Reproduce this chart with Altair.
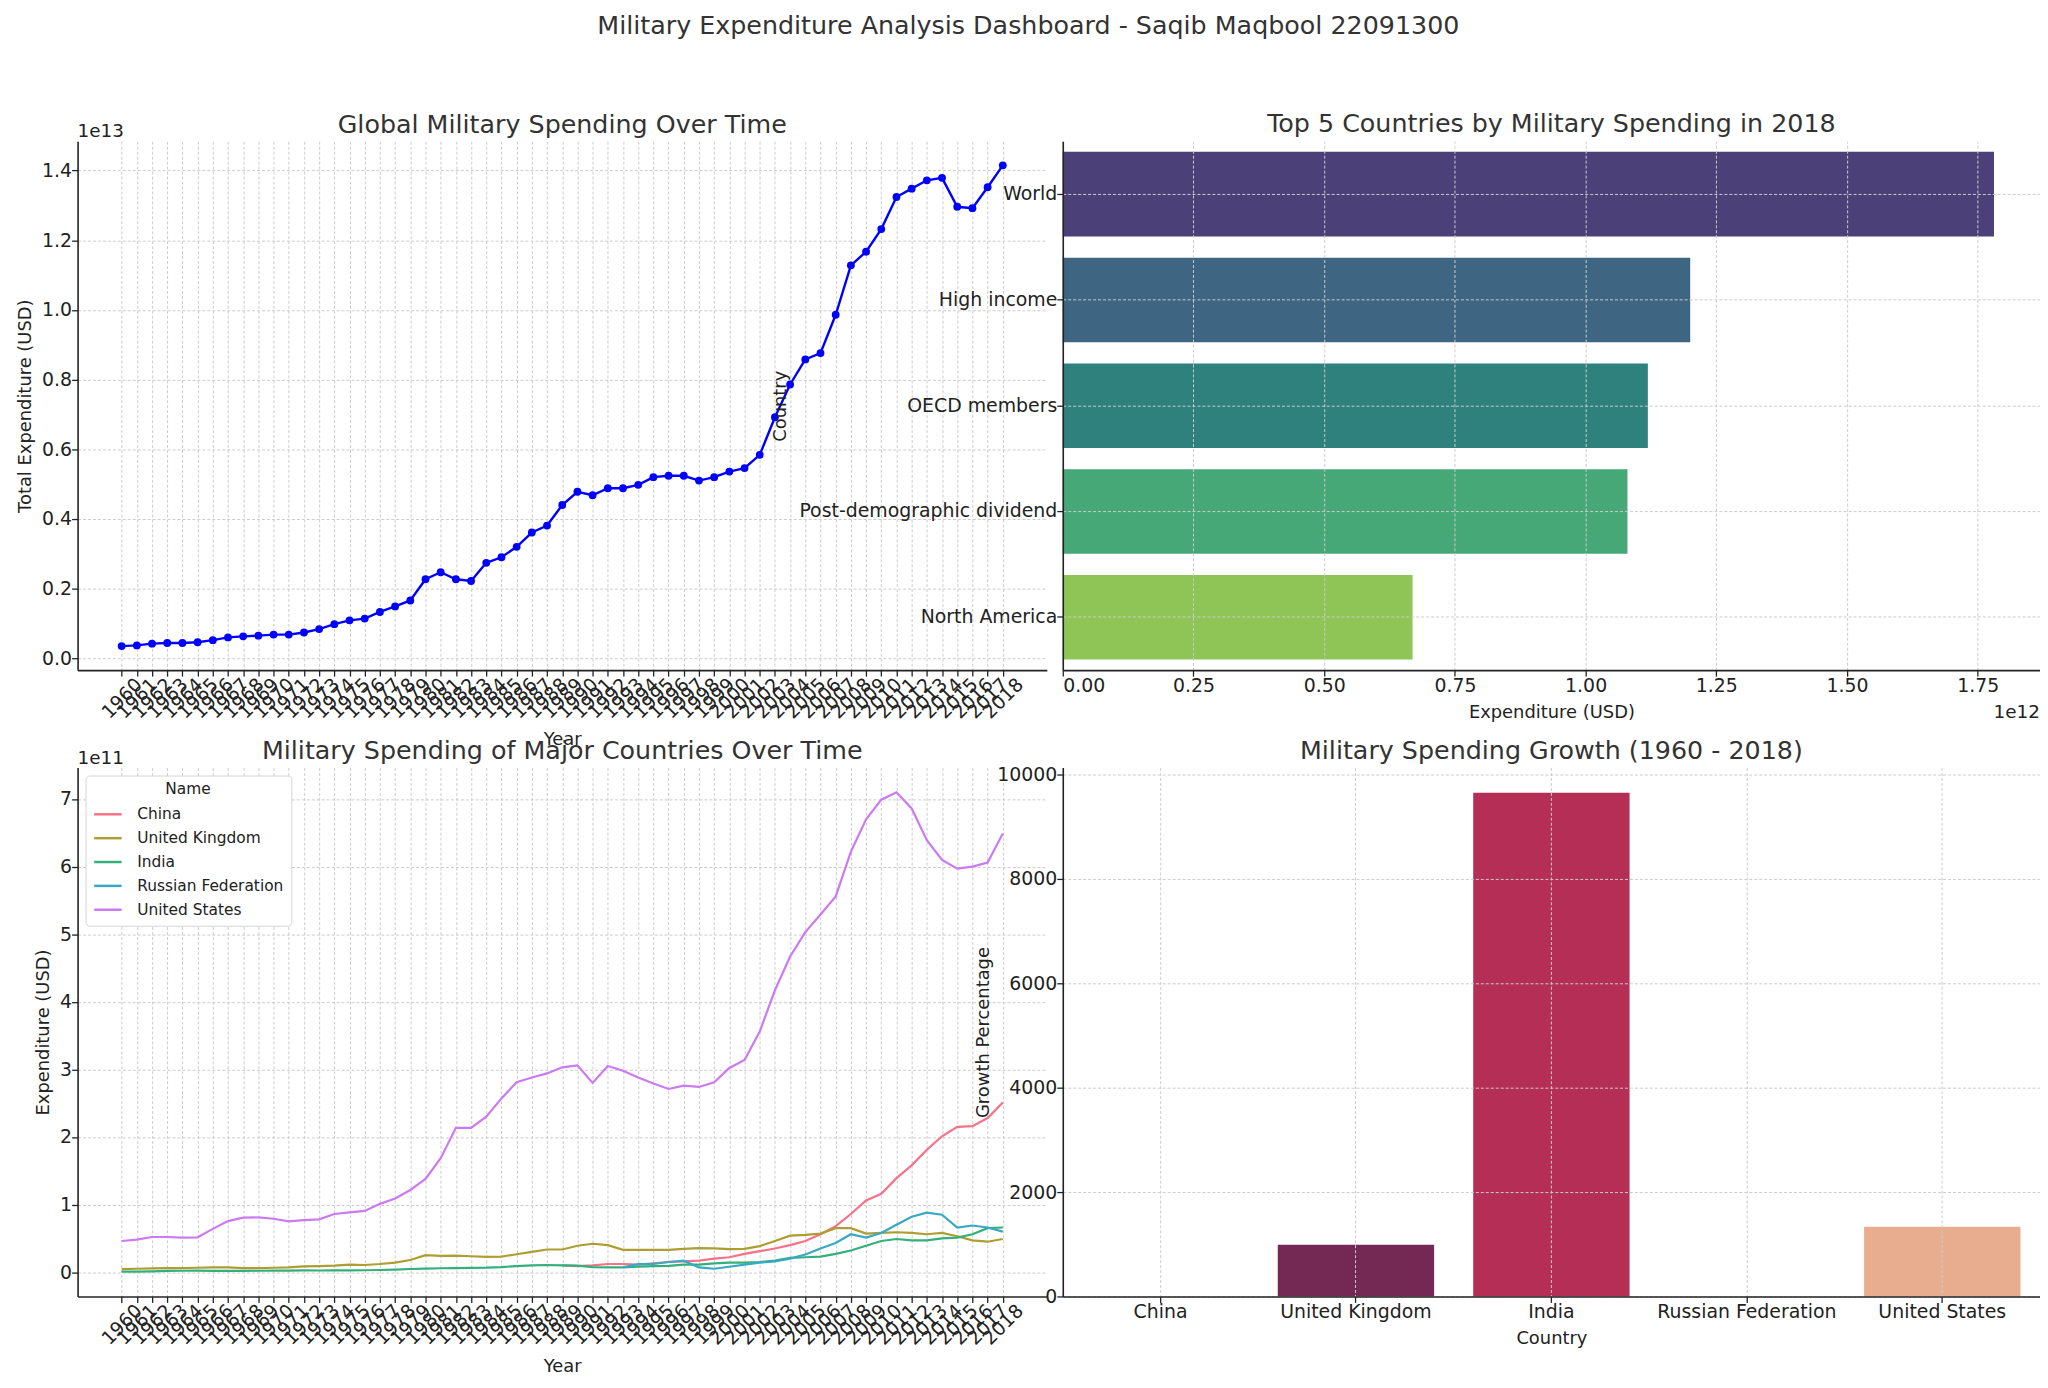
import altair as alt
import pandas as pd

years = list(range(1960, 2019))

# global total, in units of 1e13 USD
world_total = [0.035, 0.037, 0.042, 0.044, 0.044, 0.046, 0.052, 0.060, 0.063, 0.065,
               0.068, 0.068, 0.074, 0.084, 0.098, 0.109, 0.114, 0.133, 0.149, 0.166,
               0.227, 0.247, 0.227, 0.222, 0.274, 0.290, 0.320, 0.361, 0.381, 0.440,
               0.478, 0.468, 0.488, 0.488, 0.498, 0.520, 0.524, 0.524, 0.510, 0.520,
               0.536, 0.546, 0.584, 0.692, 0.786, 0.858, 0.876, 0.986, 1.128, 1.167,
               1.232, 1.324, 1.348, 1.372, 1.379, 1.296, 1.292, 1.352, 1.415]

# top 5 in 2018, in units of 1e12 USD
top5_names = ["World", "High income", "OECD members", "Post-demographic dividend", "North America"]
top5_spend = [1.781, 1.200, 1.119, 1.080, 0.669]
top5_colors = ["#4b4178", "#3e6581", "#2e817c", "#46a777", "#8ec556"]

# major countries, in units of 1e11 USD
us_spend = [0.46, 0.48, 0.52, 0.52, 0.51, 0.515, 0.64, 0.755, 0.805, 0.81,
            0.79, 0.75, 0.77, 0.78, 0.86, 0.885, 0.905, 1.01, 1.09, 1.215,
            1.38, 1.685, 2.135, 2.135, 2.30, 2.57, 2.81, 2.88, 2.94, 3.03,
            3.06, 2.80, 3.05, 2.98, 2.88, 2.79, 2.71, 2.76, 2.74, 2.81,
            3.02, 3.14, 3.56, 4.17, 4.67, 5.03, 5.29, 5.56, 6.22, 6.70,
            6.99, 7.10, 6.86, 6.39, 6.10, 5.97, 6.00, 6.06, 6.49]
uk_spend = [0.045, 0.05, 0.055, 0.06, 0.06, 0.065, 0.07, 0.07, 0.06, 0.06,
            0.065, 0.07, 0.085, 0.09, 0.095, 0.11, 0.105, 0.12, 0.14, 0.18,
            0.25, 0.24, 0.245, 0.235, 0.225, 0.23, 0.265, 0.30, 0.335, 0.335,
            0.39, 0.42, 0.40, 0.33, 0.33, 0.33, 0.33, 0.345, 0.355, 0.35,
            0.34, 0.345, 0.385, 0.46, 0.54, 0.55, 0.57, 0.65, 0.65, 0.57,
            0.58, 0.59, 0.58, 0.56, 0.58, 0.53, 0.47, 0.45, 0.49]
india_spend = [0.007, 0.008, 0.012, 0.018, 0.02, 0.021, 0.019, 0.018, 0.019, 0.02,
               0.021, 0.023, 0.025, 0.024, 0.025, 0.027, 0.028, 0.031, 0.038, 0.046,
               0.052, 0.057, 0.058, 0.062, 0.066, 0.075, 0.09, 0.10, 0.105, 0.10,
               0.095, 0.075, 0.07, 0.07, 0.08, 0.09, 0.092, 0.11, 0.11, 0.13,
               0.14, 0.14, 0.15, 0.17, 0.21, 0.22, 0.23, 0.27, 0.32, 0.39,
               0.46, 0.49, 0.47, 0.47, 0.50, 0.51, 0.56, 0.65, 0.66]
china_years = list(range(1989, 2019))
china_spend = [0.10, 0.09, 0.10, 0.12, 0.12, 0.11, 0.13, 0.15, 0.16, 0.17,
               0.20, 0.22, 0.27, 0.31, 0.35, 0.40, 0.46, 0.56, 0.68, 0.86,
               1.06, 1.16, 1.39, 1.58, 1.81, 2.01, 2.15, 2.16, 2.28, 2.51]
russia_years = list(range(1993, 2019))
russia_spend = [0.07, 0.12, 0.12, 0.15, 0.17, 0.07, 0.05, 0.08, 0.11, 0.14,
                0.16, 0.20, 0.26, 0.35, 0.43, 0.56, 0.51, 0.58, 0.70, 0.82,
                0.88, 0.85, 0.66, 0.69, 0.66, 0.60]
major_names = ["China", "United Kingdom", "India", "Russian Federation", "United States"]
major_colors = ["#f77189", "#ae9d31", "#33b07a", "#38a9c5", "#cc79f4"]

# growth 1960 -> 2018, percent (no 1960 value for China and Russia)
growth_pct = [None, 992, 9650, None, 1333]
growth_colors = ["#3b1f45", "#742955", "#b42e55", "#e0553f", "#e7ad8e"]

FONT = "DejaVu Sans"
TXT = "#222222"

world_df = pd.DataFrame({"Year": years, "Total": world_total})
top_df = pd.DataFrame({"Region": top5_names, "Spend": top5_spend})
major_df = pd.concat([
    pd.DataFrame({"Year": china_years, "Spend": china_spend, "Name": "China"}),
    pd.DataFrame({"Year": years, "Spend": uk_spend, "Name": "United Kingdom"}),
    pd.DataFrame({"Year": years, "Spend": india_spend, "Name": "India"}),
    pd.DataFrame({"Year": russia_years, "Spend": russia_spend, "Name": "Russian Federation"}),
    pd.DataFrame({"Year": years, "Spend": us_spend, "Name": "United States"}),
])
growth_df = pd.DataFrame({"Country": major_names, "Growth": growth_pct})

W_LEFT, W_RIGHT, H = 975, 983, 532


def panel_title(text, offset=4):
    return alt.TitleParams(text, frame="group", offset=offset, fontSize=25.5,
                           fontWeight="normal", color="#333333", font=FONT)


def exponent(label, **kw):
    return alt.Chart(pd.DataFrame({"t": [label]})).mark_text(
        fontSize=18.5, font=FONT, color=TXT, **kw
    ).encode(text="t:N")


year_axis = alt.Axis(values=years, format="d", labelAngle=315, labelAlign="center",
                     labelBaseline="middle", labelPadding=22, labelOverlap=False,
                     labelFlush=False, titlePadding=9)
year_scale = alt.Scale(domain=[1957.1, 2020.9], nice=False, zero=False)

# 1. global spending
wx = alt.X("Year:Q", scale=year_scale, axis=year_axis, title="Year")
wy = alt.Y("Total:Q", scale=alt.Scale(domain=[-0.034, 1.484], nice=False, zero=False),
           axis=alt.Axis(values=[0, 0.2, 0.4, 0.6, 0.8, 1.0, 1.2, 1.4], format=".1f",
                         titlePadding=7),
           title="Total Expenditure (USD)")
world_line = alt.Chart(world_df).mark_line(color="#0000ff", strokeWidth=2.4).encode(x=wx, y=wy)
world_pts = alt.Chart(world_df).mark_circle(color="#0000ff", size=62, opacity=1).encode(x=wx, y=wy)
p1 = alt.layer(
    world_line, world_pts,
    exponent("1e13", align="left", baseline="alphabetic").encode(x=alt.value(0), y=alt.value(-4)),
).properties(width=W_LEFT, height=H,
             title=panel_title("Global Military Spending Over Time", offset=-16))

# 2. top 5 in 2018
bars_top = alt.Chart(top_df).mark_bar().encode(
    x=alt.X("Spend:Q", scale=alt.Scale(domain=[0, 1.869], nice=False),
            axis=alt.Axis(values=[0, 0.25, 0.5, 0.75, 1.0, 1.25, 1.5, 1.75], format=".2f",
                          zindex=1, titlePadding=9),
            title="Expenditure (USD)"),
    y=alt.Y("Region:N", sort=top5_names,
            scale=alt.Scale(domain=top5_names, paddingInner=0.2, paddingOuter=0.1),
            axis=alt.Axis(zindex=1, grid=True, bandPosition=0.5, titleX=-275),
            title="Country"),
    color=alt.Color("Region:N", scale=alt.Scale(domain=top5_names, range=top5_colors), legend=None),
)
p2 = alt.layer(
    bars_top,
    exponent("1e12", align="right", baseline="middle").encode(x=alt.value(W_RIGHT), y=alt.value(H + 42)),
).properties(width=W_RIGHT, height=H,
             title=panel_title("Top 5 Countries by Military Spending in 2018"))

# 3. major countries over time
major_lines = alt.Chart(major_df).mark_line(strokeWidth=2.2).encode(
    x=alt.X("Year:Q", scale=year_scale, axis=year_axis, title="Year"),
    y=alt.Y("Spend:Q", scale=alt.Scale(domain=[-0.36, 7.465], nice=False, zero=False),
            axis=alt.Axis(values=list(range(8)), format="d", titlePadding=7),
            title="Expenditure (USD)"),
    color=alt.Color("Name:N", scale=alt.Scale(domain=major_names, range=major_colors),
                    legend=alt.Legend(title="Name", orient="top-left", offset=8)),
)
p3 = alt.layer(
    major_lines,
    exponent("1e11", align="left", baseline="alphabetic").encode(x=alt.value(0), y=alt.value(-4)),
).properties(width=W_LEFT, height=H,
             title=panel_title("Military Spending of Major Countries Over Time", offset=-16))

# 4. growth
p4 = alt.Chart(growth_df).mark_bar().encode(
    x=alt.X("Country:N", sort=major_names,
            scale=alt.Scale(domain=major_names, paddingInner=0.2, paddingOuter=0.1),
            axis=alt.Axis(labelAngle=0, zindex=1, grid=True, bandPosition=0.5, titlePadding=8),
            title="Country"),
    y=alt.Y("Growth:Q", scale=alt.Scale(domain=[0, 10132], nice=False),
            axis=alt.Axis(values=[0, 2000, 4000, 6000, 8000, 10000], format="d", zindex=1),
            title="Growth Percentage"),
    color=alt.Color("Country:N", scale=alt.Scale(domain=major_names, range=growth_colors), legend=None),
).properties(width=W_RIGHT, height=H,
             title=panel_title("Military Spending Growth (1960 - 2018)", offset=1))

chart = alt.concat(
    p1, p2, p3, p4, columns=2, spacing={"row": 98, "column": 16}, bounds="flush"
).resolve_scale(
    color="independent"
).properties(
    title=alt.TitleParams("Military Expenditure Analysis Dashboard - Saqib Maqbool 22091300",
                          fontSize=25.5, fontWeight="normal", color="#333333", font=FONT,
                          anchor="middle", offset=73),
    padding={"left": 8, "top": 2, "right": 0, "bottom": 4},
).configure(
    font=FONT
).configure_view(
    stroke=None
).configure_axis(
    labelFont=FONT, labelFontSize=19, labelColor=TXT, labelPadding=0, labelLimit=400,
    titleFont=FONT, titleFontSize=18, titleFontWeight="normal", titleColor=TXT,
    grid=True, gridColor="#cccccc", gridDash=[3, 2], gridWidth=1,
    domainColor=TXT, domainWidth=1.6, tickColor=TXT, tickSize=6, tickWidth=1.3,
).configure_legend(
    labelFont=FONT, labelFontSize=15.5, labelColor=TXT, titleFont=FONT, titleFontSize=15.5,
    titleFontWeight="normal", titleColor=TXT, titleAnchor="middle", titlePadding=1,
    symbolType="stroke", symbolStrokeWidth=2.5, symbolSize=760, labelOffset=14,
    rowPadding=0, padding=7, strokeColor="#d5d5d5", fillColor="#ffffff", cornerRadius=4,
)

chart.save("out.html", embed_options={"renderer": "svg", "actions": False})
